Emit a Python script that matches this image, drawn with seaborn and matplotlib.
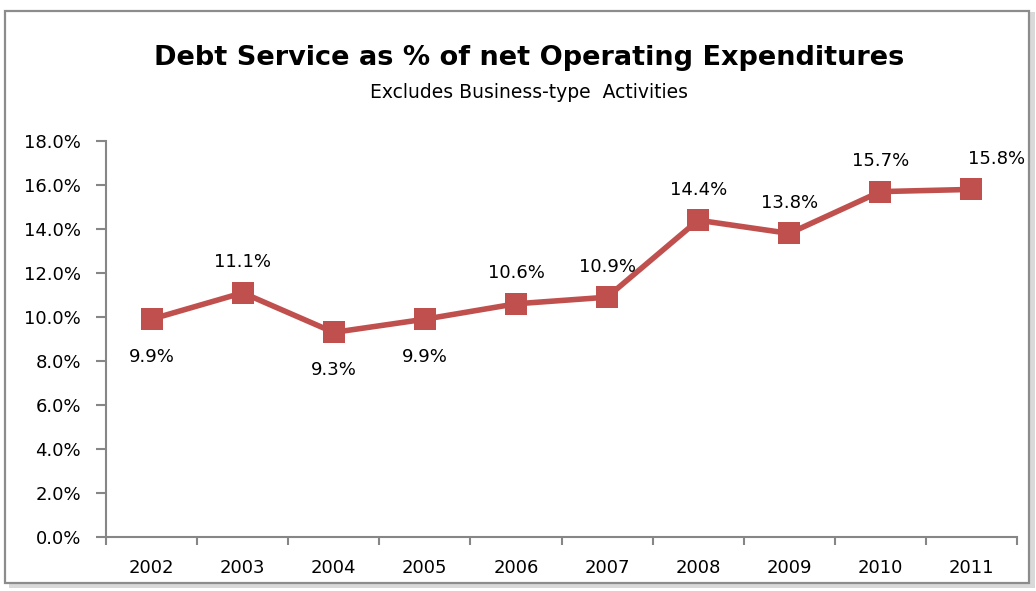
import numpy as np
import pandas as pd
import matplotlib
matplotlib.use("Agg")
import matplotlib.pyplot as plt
import seaborn as sns
from matplotlib.patches import Rectangle
from matplotlib.ticker import FixedLocator, FuncFormatter

years = ["2002", "2003", "2004", "2005", "2006", "2007", "2008", "2009", "2010", "2011"]
debt_pct = [9.9, 11.1, 9.3, 9.9, 10.6, 10.9, 14.4, 13.8, 15.7, 15.8]
label_above = [False, True, False, False, True, True, True, True, True, True]

title = "Debt Service as % of net Operating Expenditures"
subtitle = "Excludes Business-type  Activities"

sns.set_theme(style="white")
plt.rcParams["font.family"] = ["DejaVu Sans"]

df = pd.DataFrame({"year": years, "pct": debt_pct})

fig = plt.figure(figsize=(10.36, 5.91), dpi=100)

# chart frame with drop shadow, kept behind the axes
fig.patches.append(Rectangle((0.009, 0.005), 0.990, 0.975, transform=fig.transFigure,
                             facecolor="#d9d9d9", edgecolor="none", zorder=-3))
fig.patches.append(Rectangle((0.005, 0.013), 0.988, 0.968, transform=fig.transFigure,
                             facecolor="white", edgecolor="#8c8c8c", linewidth=1.6, zorder=-2))

ax = fig.add_axes([0.1023, 0.0914, 0.8794, 0.670])
ax.set_facecolor("none")
ax.set_zorder(2)

line_color = "#C0504D"
sns.lineplot(data=df, x="year", y="pct", ax=ax, color=line_color, linewidth=4.0,
             marker="s", markersize=16.5, markeredgewidth=0, sort=False)

ax.set_ylim(0, 18)
ax.set_xlim(-0.5, len(years) - 0.5)
ax.set_yticks(np.arange(0, 18.1, 2))
ax.yaxis.set_major_formatter(FuncFormatter(lambda v, _: f"{v:.1f}%"))

# category boundaries carry the tick marks, labels sit at the centres
ax.xaxis.set_major_locator(FixedLocator(np.arange(-0.5, len(years), 1.0)))
ax.xaxis.set_major_formatter(FuncFormatter(lambda v, _: ""))
ax.xaxis.set_minor_locator(FixedLocator(np.arange(len(years))))
ax.set_xticklabels(years, minor=True)
ax.tick_params(axis="x", which="major", direction="out", length=6, width=1.5,
               color="#868686", bottom=True)
ax.tick_params(axis="x", which="minor", length=0, pad=16, labelsize=13, labelcolor="black")
ax.tick_params(axis="y", direction="out", length=7, width=1.5, color="#868686",
               left=True, labelsize=13, labelcolor="black", pad=11)

ax.set_xlabel("")
ax.set_ylabel("")
for side in ["top", "right"]:
    ax.spines[side].set_visible(False)
for side in ["left", "bottom"]:
    ax.spines[side].set_color("#868686")
    ax.spines[side].set_linewidth(1.5)
ax.grid(False)

# value labels: above the point, except where the series dips
for i, (v, up) in enumerate(zip(debt_pct, label_above)):
    xpos = i + 0.27 if i == len(years) - 1 else i
    dy = 22 if up else -27
    ax.annotate(f"{v:.1f}%", (xpos, v), xytext=(0, dy), textcoords="offset points",
                ha="center", va="center", fontsize=13, color="black")

fig.text(0.511, 0.902, title, ha="center", va="center", fontsize=19.5, fontweight="bold",
         color="black")
fig.text(0.511, 0.843, subtitle, ha="center", va="center", fontsize=13.5, color="black")

fig.savefig("out.png", dpi=100)
